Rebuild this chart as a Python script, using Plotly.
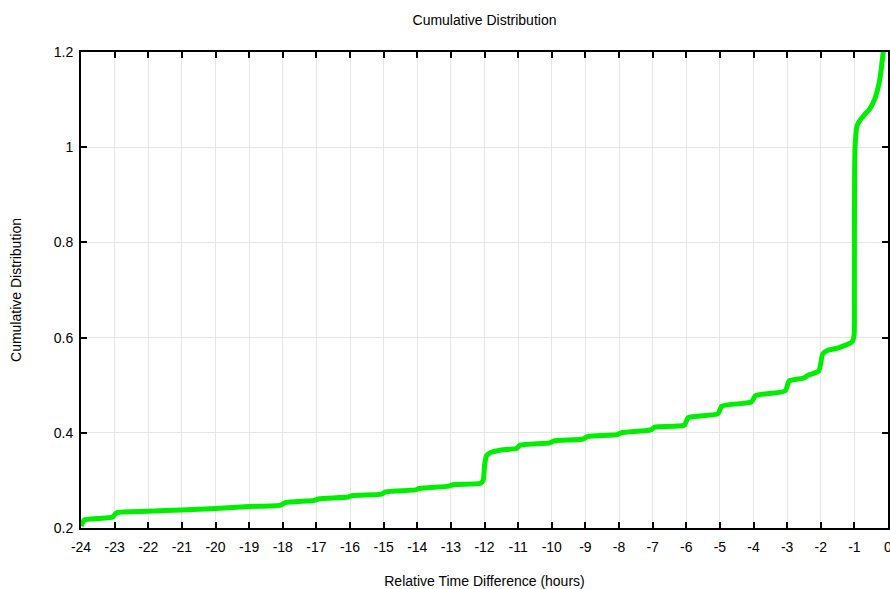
import plotly.graph_objects as go

# Relative time difference (hours) and cumulative distribution values
hours = [-24.0, -23.9, -23.5, -23.06, -22.94, -22.0, -21.0, -20.0, -19.0, -18.06, -17.94,
         -17.06, -16.94, -16.06, -15.94, -15.06, -14.94, -14.06, -13.94, -13.06, -12.94,
         -12.12, -12.04, -12.0, -11.94, -11.8, -11.5, -11.06, -10.94, -10.06, -9.94,
         -9.06, -8.94, -8.06, -7.94, -7.06, -6.94, -6.06, -5.94, -5.06, -4.94,
         -4.06, -3.94, -3.06, -2.94, -2.5, -2.4, -2.06, -1.94, -1.8, -1.5, -1.2,
         -1.06, -1.01, -1.0, -0.98, -0.92, -0.8, -0.7, -0.55, -0.4, -0.25, -0.15, -0.1]
cdf = [0.204, 0.217, 0.220, 0.223, 0.232, 0.235, 0.238, 0.241, 0.245, 0.248, 0.253,
       0.258, 0.261, 0.265, 0.268, 0.271, 0.276, 0.280, 0.283, 0.288, 0.291,
       0.294, 0.300, 0.330, 0.352, 0.359, 0.364, 0.367, 0.374, 0.379, 0.383,
       0.387, 0.392, 0.396, 0.400, 0.406, 0.412, 0.416, 0.432, 0.440, 0.456,
       0.465, 0.478, 0.488, 0.509, 0.515, 0.520, 0.530, 0.566, 0.573, 0.578, 0.586,
       0.592, 0.605, 0.70, 1.0, 1.045, 1.06, 1.068, 1.08, 1.10, 1.14, 1.195, 1.23]

x_ticks = list(range(-24, 1))
y_ticks = [0.2, 0.4, 0.6, 0.8, 1.0, 1.2]
y_tick_labels = ["0.2", "0.4", "0.6", "0.8", "1", "1.2"]

FONT = "Liberation Sans, Arial, sans-serif"
W, H = 890, 589

fig = go.Figure()
fig.add_trace(go.Scatter(
    x=hours, y=cdf, mode="lines",
    line=dict(color="#00ee00", width=5, shape="spline", smoothing=0.6),
    showlegend=False, hoverinfo="x+y",
))

axis_common = dict(
    showline=True, linecolor="black", linewidth=2, mirror="ticks",
    ticks="inside", ticklen=6, tickwidth=1.5, tickcolor="black",
    showgrid=True, gridcolor="#e6e6e6", gridwidth=1, zeroline=False,
    automargin=False, ticklabeloverflow="allow",
    tickfont=dict(family=FONT, size=14, color="black"),
)

fig.update_layout(
    width=W, height=H,
    margin=dict(l=81, r=2, t=52, b=61),
    paper_bgcolor="white", plot_bgcolor="white",
    font=dict(family=FONT, color="black"),
    title=dict(text="Cumulative Distribution", xref="paper", x=0.5, xanchor="center",
               yref="container", y=1 - 20 / H, yanchor="middle",
               font=dict(size=14)),
    xaxis=dict(range=[-24, 0], tickvals=x_ticks, ticktext=[str(v) for v in x_ticks],
               ticklabelstandoff=5,
               title=dict(text="Relative Time Difference (hours)", font=dict(size=14), standoff=26),
               **axis_common),
    yaxis=dict(range=[0.2, 1.2], tickvals=y_ticks, ticktext=y_tick_labels,
               ticklabelstandoff=3,
               title=dict(text="Cumulative Distribution", font=dict(size=14), standoff=29),
               **axis_common),
)

fig.write_html(
    "out.html",
    config={"displayModeBar": False},
    post_script="document.body.style.margin='0';document.body.style.overflow='hidden';",
)
